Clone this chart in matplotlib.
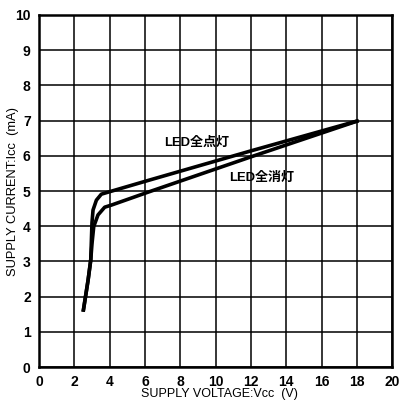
import matplotlib
matplotlib.use('Agg')
import matplotlib.pyplot as plt
import numpy as np

plt.rcParams['font.family'] = ['Liberation Sans', 'Noto Sans CJK JP']

# --- data ---
vcc_on = [2.5, 2.78, 2.93, 3.0, 3.06, 3.25, 3.53, 4.0, 6.25, 12.0, 18.1]
icc_on = [1.57, 2.47, 3.04, 4.1, 4.46, 4.74, 4.91, 4.98, 5.31, 6.14, 7.0]   # LED全点灯

vcc_off = [2.5, 2.78, 2.93, 3.0, 3.1, 3.34, 3.72, 4.1, 6.25, 12.0, 18.1]
icc_off = [1.57, 2.47, 3.04, 3.5, 3.99, 4.32, 4.54, 4.6, 4.98, 5.97, 7.0]  # LED全消灯

x_ticks = [0, 2, 4, 6, 8, 10, 12, 14, 16, 18, 20]
y_ticks = [0, 1, 2, 3, 4, 5, 6, 7, 8, 9, 10]

fig = plt.figure(figsize=(4.0, 4.03), dpi=100)
ax = fig.add_axes([0.0975, 0.0893, 0.883, 0.8735])

ax.plot(vcc_on, icc_on, color='black', lw=2.6, solid_capstyle='butt', zorder=3)
ax.plot(vcc_off, icc_off, color='black', lw=2.6, solid_capstyle='butt', zorder=3)

ax.text(7.1, 6.36, 'LED全点灯', fontsize=9.4, fontweight='bold', va='center', ha='left')
ax.text(10.76, 5.37, 'LED全消灯', fontsize=9.4, fontweight='bold', va='center', ha='left')

ax.set_xlim(0, 20)
ax.set_ylim(0, 10)
ax.set_xticks(x_ticks)
ax.set_yticks(y_ticks)
ax.tick_params(length=0, labelsize=10, pad=6)
for lab in ax.get_xticklabels() + ax.get_yticklabels():
    lab.set_fontweight('bold')
ax.grid(True, color='black', lw=1.1)
ax.set_axisbelow(True)
for s in ax.spines.values():
    s.set_linewidth(1.8)

ax.set_xlabel('SUPPLY VOLTAGE:Vcc  (V)', fontsize=9)
ax.set_ylabel('SUPPLY CURRENT:Icc  (mA)', fontsize=9.3)
ax.xaxis.set_label_coords(0.51, -0.077)
ax.yaxis.set_label_coords(-0.073, 0.5)
ax.xaxis.label.set_va('center')
ax.yaxis.label.set_va('center')

fig.savefig('out.png', dpi=100)
